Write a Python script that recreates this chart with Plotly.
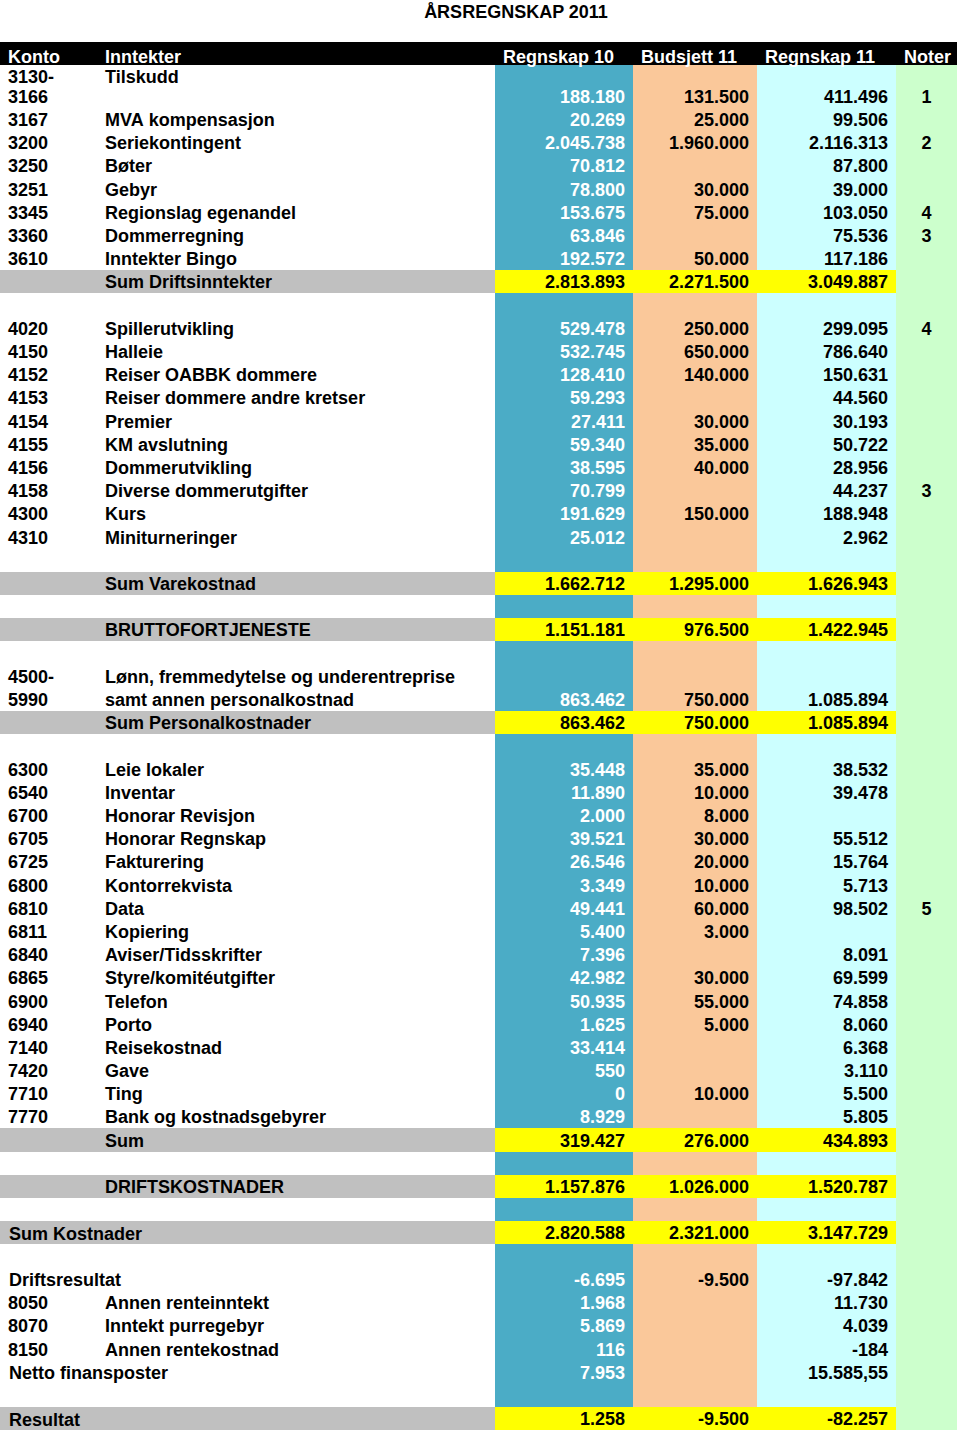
import plotly.graph_objects as go

# ---------------- data ----------------
title = "ÅRSREGNSKAP 2011"
headers = ["Konto", "Inntekter", "Regnskap 10", "Budsjett 11", "Regnskap 11", "Noter"]

konto = [
    "3130-", "3166", "3167", "3200", "3250", "3251", "3345", "3360", "3610", "",
    "",
    "4020", "4150", "4152", "4153", "4154", "4155", "4156", "4158", "4300", "4310",
    "", "", "", "", "",
    "4500-", "5990", "",
    "",
    "6300", "6540", "6700", "6705", "6725", "6800", "6810", "6811", "6840", "6865",
    "6900", "6940", "7140", "7420", "7710", "7770", "",
    "", "", "",
    "Sum Kostnader", "",
    "Driftsresultat", "8050", "8070", "8150", "Netto finansposter", "",
    "Resultat",
]

tekst = [
    "Tilskudd", "", "MVA kompensasjon", "Seriekontingent", "Bøter", "Gebyr",
    "Regionslag egenandel", "Dommerregning", "Inntekter Bingo", "Sum Driftsinntekter",
    "",
    "Spillerutvikling", "Halleie", "Reiser OABBK dommere", "Reiser dommere andre kretser",
    "Premier", "KM avslutning", "Dommerutvikling", "Diverse dommerutgifter", "Kurs",
    "Miniturneringer",
    "", "Sum Varekostnad", "", "BRUTTOFORTJENESTE", "",
    "Lønn, fremmedytelse og underentreprise", "samt annen personalkostnad",
    "Sum Personalkostnader",
    "",
    "Leie lokaler", "Inventar", "Honorar Revisjon", "Honorar Regnskap", "Fakturering",
    "Kontorrekvista", "Data", "Kopiering", "Aviser/Tidsskrifter", "Styre/komitéutgifter",
    "Telefon", "Porto", "Reisekostnad", "Gave", "Ting", "Bank og kostnadsgebyrer", "Sum",
    "", "DRIFTSKOSTNADER", "",
    "", "",
    "", "Annen renteinntekt", "Inntekt purregebyr", "Annen rentekostnad", "", "",
    "",
]

regnskap10 = [
    "", "188.180", "20.269", "2.045.738", "70.812", "78.800", "153.675", "63.846",
    "192.572", "2.813.893",
    "",
    "529.478", "532.745", "128.410", "59.293", "27.411", "59.340", "38.595", "70.799",
    "191.629", "25.012",
    "", "1.662.712", "", "1.151.181", "",
    "", "863.462", "863.462",
    "",
    "35.448", "11.890", "2.000", "39.521", "26.546", "3.349", "49.441", "5.400", "7.396",
    "42.982", "50.935", "1.625", "33.414", "550", "0", "8.929", "319.427",
    "", "1.157.876", "",
    "2.820.588", "",
    "-6.695", "1.968", "5.869", "116", "7.953", "",
    "1.258",
]

budsjett11 = [
    "", "131.500", "25.000", "1.960.000", "", "30.000", "75.000", "", "50.000", "2.271.500",
    "",
    "250.000", "650.000", "140.000", "", "30.000", "35.000", "40.000", "", "150.000", "",
    "", "1.295.000", "", "976.500", "",
    "", "750.000", "750.000",
    "",
    "35.000", "10.000", "8.000", "30.000", "20.000", "10.000", "60.000", "3.000", "",
    "30.000", "55.000", "5.000", "", "", "10.000", "", "276.000",
    "", "1.026.000", "",
    "2.321.000", "",
    "-9.500", "", "", "", "", "",
    "-9.500",
]

regnskap11 = [
    "", "411.496", "99.506", "2.116.313", "87.800", "39.000", "103.050", "75.536",
    "117.186", "3.049.887",
    "",
    "299.095", "786.640", "150.631", "44.560", "30.193", "50.722", "28.956", "44.237",
    "188.948", "2.962",
    "", "1.626.943", "", "1.422.945", "",
    "", "1.085.894", "1.085.894",
    "",
    "38.532", "39.478", "", "55.512", "15.764", "5.713", "98.502", "", "8.091",
    "69.599", "74.858", "8.060", "6.368", "3.110", "5.500", "5.805", "434.893",
    "", "1.520.787", "",
    "3.147.729", "",
    "-97.842", "11.730", "4.039", "-184", "15.585,55", "",
    "-82.257",
]

noter = [
    "", "1", "", "2", "", "", "4", "3", "", "",
    "",
    "4", "", "", "", "", "", "", "3", "", "",
    "", "", "", "", "",
    "", "", "",
    "",
    "", "", "", "", "", "", "5", "", "", "",
    "", "", "", "", "", "", "",
    "", "", "",
    "", "",
    "", "", "", "", "", "",
    "",
]

# row kind: "p" = post, "s" = sum row (grey/yellow)
radtype = [
    "p", "p", "p", "p", "p", "p", "p", "p", "p", "s",
    "p",
    "p", "p", "p", "p", "p", "p", "p", "p", "p", "p",
    "p", "s", "p", "s", "p",
    "p", "p", "s",
    "p",
    "p", "p", "p", "p", "p", "p", "p", "p", "p", "p",
    "p", "p", "p", "p", "p", "p", "s",
    "p", "s", "p",
    "s", "p",
    "p", "p", "p", "p", "p", "p",
    "s",
]

# ---------------- styling ----------------
W, H = 960, 1435
ROW_H = 23.2
ROW0_TOP = 61.2          # top of first data row (px)
HEAD_BOTTOM = 65
TEXT_BASE = 18.3          # baseline of text below row top (px)
ROW0_BASE = 83.3          # baseline of the first (shorter) row's text
PLOTLY_BASE = 21.5        # where plotly's table puts the baseline below cell top
HEAD_BASE = 63            # header text baseline (px)
FONT = "Liberation Sans"
FS = 18
TINY = 1                  # height of the (empty) header of the fill table

BLUE = "#4bacc6"
PEACH = "#fac89a"
CYAN = "#ccffff"
GREEN = "#ccffcc"
GREY = "#c0c0c0"
YELLOW = "#ffff00"
CLEAR = "rgba(0,0,0,0)"

base_fill = ["white", "white", BLUE, PEACH, CYAN, GREEN]
sum_fill = [GREY, GREY, YELLOW, YELLOW, YELLOW, GREEN]
base_font = ["black", "black", "white", "black", "black", "black"]
sum_font = ["black"] * 6
aligns = ["left", "left", "right", "right", "right", "center"]


def nb(s):
    return s.replace(" ", "\u00a0")


n = len(konto)
konto_cells = [k if (k == "" or k[0].isdigit()) else "" for k in konto]
columns = [konto_cells, tekst, regnskap10, budsjett11, regnskap11, noter]
columns = [[nb(v) for v in col] for col in columns]

fill_colors = [[(sum_fill if radtype[r] == "s" else base_fill)[c] for r in range(n)] for c in range(6)]
font_colors = [[(sum_font if radtype[r] == "s" else base_font)[c] for r in range(n)] for c in range(6)]

col_edges = [0, 97, 495, 633, 757, 896, 957]
col_widths = [col_edges[i + 1] - col_edges[i] for i in range(6)]
xdom = [0, col_edges[-1] / W]


def ydom(top_px):
    return [0, 1 - top_px / H]


font = dict(family=FONT, size=FS, weight="bold")
empty_cols = [[""] * n for _ in range(6)]

# 1) cell backgrounds
fill_table = go.Table(
    columnwidth=col_widths,
    domain=dict(x=xdom, y=ydom(ROW0_TOP - TINY)),
    header=dict(values=[""] * 6, height=TINY, fill_color=CLEAR, line=dict(width=0, color=CLEAR)),
    cells=dict(values=empty_cols, height=ROW_H, fill_color=fill_colors,
               line=dict(width=0, color=fill_colors)),
)

# 2) black header row
head_top = HEAD_BASE - PLOTLY_BASE
header_table = go.Table(
    columnwidth=col_widths,
    domain=dict(x=xdom, y=ydom(head_top)),
    header=dict(values=[nb(h) for h in headers], height=HEAD_BOTTOM - head_top,
                fill_color="black", line=dict(width=0, color="black"), align="left",
                font=dict(font, color="white")),
    cells=dict(values=[[] for _ in range(6)], height=ROW_H),
)

# 3) cell texts (transparent). The first, shorter row is carried by the header.
row0_top = ROW0_BASE - PLOTLY_BASE
row1_top = ROW0_TOP + ROW_H + TEXT_BASE - PLOTLY_BASE
text_table = go.Table(
    columnwidth=col_widths,
    domain=dict(x=xdom, y=ydom(row0_top)),
    header=dict(values=[col[0] for col in columns], height=row1_top - row0_top,
                fill_color=CLEAR, line=dict(width=0, color=CLEAR), align=aligns,
                font=dict(font, color=[fc[0] for fc in font_colors])),
    cells=dict(values=[col[1:] for col in columns], height=ROW_H, fill_color=CLEAR,
               line=dict(width=0, color=CLEAR), align=aligns,
               font=dict(font, color=[fc[1:] for fc in font_colors])),
)

fig = go.Figure([fill_table, header_table, text_table])

# labels that run across the Konto and Inntekter columns
annotations = []
for i, k in enumerate(konto):
    if k and not k[0].isdigit():
        yc = ROW0_TOP + i * ROW_H + TEXT_BASE - 5.4
        annotations.append(dict(
            text=k, xref="paper", yref="paper", x=7 / W, y=1 - yc / H,
            xanchor="left", yanchor="middle", showarrow=False,
            font=dict(font, color="black"),
        ))

fig.update_layout(
    width=W, height=H,
    margin=dict(l=0, r=0, t=0, b=0),
    paper_bgcolor="white",
    title=dict(text=title, x=516 / W, xanchor="center", y=1 - 12 / H, yanchor="middle",
               font=dict(font, color="black")),
    annotations=annotations,
)

fig.write_html("out.html", config={"displayModeBar": False},
               post_script="document.body.style.margin='0px';")
